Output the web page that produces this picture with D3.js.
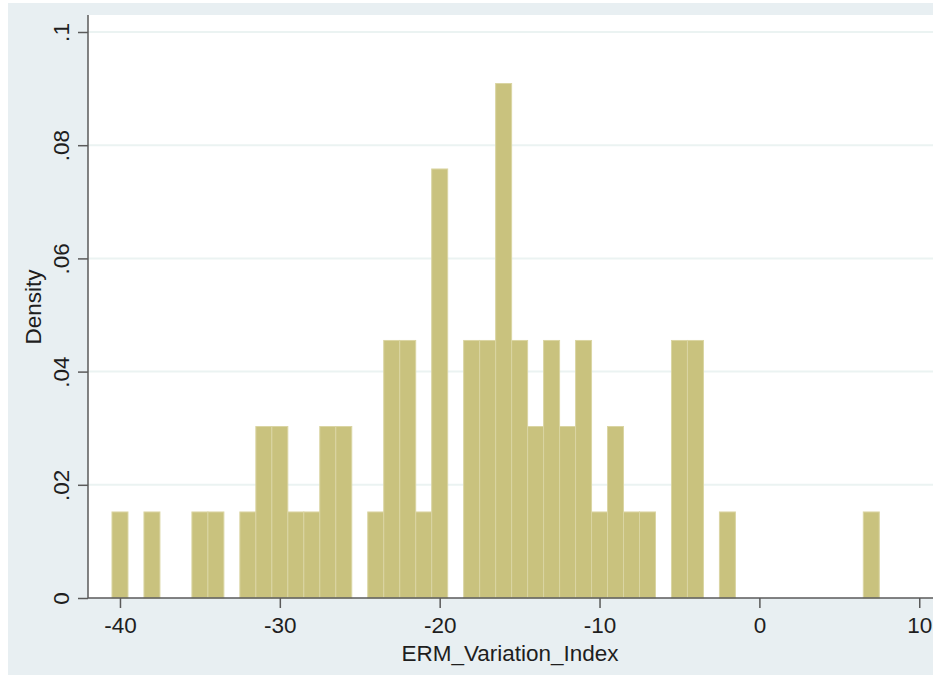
<!DOCTYPE html>
<html>
<head>
<meta charset="utf-8">
<script src="https://cdn.jsdelivr.net/npm/d3@7"></script>
<style>
  html, body { margin: 0; padding: 0; background: #ffffff; }
  svg { display: block; }
  text { font-family: "Liberation Sans", Arial, Helvetica, sans-serif; fill: #1e1e1e; }
</style>
</head>
<body>
<svg id="chart" width="933" height="676"></svg>
<script>
// Histogram bins (centres, width 1) and density heights
const binCenters = [-40,-39,-38,-37,-36,-35,-34,-33,-32,-31,-30,-29,-28,-27,-26,-25,-24,-23,-22,-21,-20,-19,-18,-17,-16,-15,-14,-13,-12,-11,-10,-9,-8,-7,-6,-5,-4,-3,-2,-1,0,1,2,3,4,5,6,7];
const densities  = [0.0152,0,0.0152,0,0,0.0152,0.0152,0,0.0152,0.0303,0.0303,0.0152,0.0152,0.0303,0.0303,0,0.0152,0.0455,0.0455,0.0152,0.0758,0,0.0455,0.0455,0.0909,0.0455,0.0303,0.0455,0.0303,0.0455,0.0152,0.0303,0.0152,0.0152,0,0.0455,0.0455,0,0.0152,0,0,0,0,0,0,0,0,0.0152];
const binWidth = 1;
const xTicks = [-40, -30, -20, -10, 0, 10];
const xTickLabels = ["-40", "-30", "-20", "-10", "0", "10"];
const yTicks = [0, 0.02, 0.04, 0.06, 0.08, 0.1];
const yTickLabels = ["0", ".02", ".04", ".06", ".08", ".1"];
const xTitle = "ERM_Variation_Index";
const yTitle = "Density";

const bins = binCenters.map((c, i) => ({ x0: c - binWidth / 2, x1: c + binWidth / 2, d: densities[i] }));

const svg = d3.select("#chart");
const W = 933, H = 676;
const plot = { left: 88, top: 15, right: 933, bottom: 598 };
const FS = 22.5;

const x = d3.scaleLinear().domain([-42, 10.86]).range([plot.left, plot.right]);
const y = d3.scaleLinear().domain([0, 0.1]).range([plot.bottom, 32]);

// outer graph region
svg.append("rect").attr("x", 8).attr("y", 3).attr("width", W - 8).attr("height", H - 4).attr("fill", "#e8eff2");
// plot region
svg.append("rect").attr("x", plot.left).attr("y", plot.top).attr("width", plot.right - plot.left).attr("height", plot.bottom - plot.top).attr("fill", "#ffffff");

// gridlines
svg.append("g").selectAll("line").data(yTicks.filter(t => t > 0)).join("line")
  .attr("x1", plot.left).attr("x2", plot.right)
  .attr("y1", d => y(d)).attr("y2", d => y(d))
  .attr("stroke", "#ebf3f2").attr("stroke-width", 2);

// bars
svg.append("g").selectAll("rect").data(bins.filter(b => b.d > 0)).join("rect")
  .attr("x", d => x(d.x0))
  .attr("width", d => x(d.x1) - x(d.x0))
  .attr("y", d => y(d.d))
  .attr("height", d => y(0) - y(d.d))
  .attr("fill", "#c9c27e")
  .attr("stroke", "#dad5a3")
  .attr("stroke-width", 1);

// axes
const xAxis = d3.axisBottom(x).tickValues(xTicks).tickFormat((d, i) => xTickLabels[i]).tickSize(10).tickSizeOuter(0).tickPadding(6);
const gx = svg.append("g").attr("transform", `translate(0,${plot.bottom})`).call(xAxis);
gx.select(".domain").attr("d", `M${plot.left},0H${plot.right}`).attr("stroke", "#5a5a5a").attr("stroke-width", 1.5);
gx.selectAll(".tick line").attr("stroke", "#5a5a5a").attr("stroke-width", 1.5);
gx.selectAll(".tick text").attr("font-size", FS).attr("font-family", "Liberation Sans, Arial, sans-serif").attr("fill", "#1e1e1e").attr("dy", null).attr("y", 35);

const yAxis = d3.axisLeft(y).tickValues(yTicks).tickFormat((d, i) => yTickLabels[i]).tickSize(10).tickSizeOuter(0);
const gy = svg.append("g").attr("transform", `translate(${plot.left},0)`).call(yAxis);
gy.select(".domain").attr("d", `M0,${plot.top}V${plot.bottom}`).attr("stroke", "#5a5a5a").attr("stroke-width", 1.5);
gy.selectAll(".tick line").attr("stroke", "#5a5a5a").attr("stroke-width", 1.5);
gy.selectAll(".tick text")
  .attr("font-size", FS).attr("font-family", "Liberation Sans, Arial, sans-serif").attr("fill", "#1e1e1e")
  .attr("x", null).attr("dy", null)
  .attr("text-anchor", "middle")
  .attr("transform", "translate(-19,0) rotate(-90)");

// titles
svg.append("text").attr("x", 510).attr("y", 661).attr("text-anchor", "middle").attr("font-size", FS).text(xTitle);
svg.append("text").attr("transform", "translate(41,307) rotate(-90)").attr("text-anchor", "middle").attr("font-size", FS).text(yTitle);
</script>
</body>
</html>
